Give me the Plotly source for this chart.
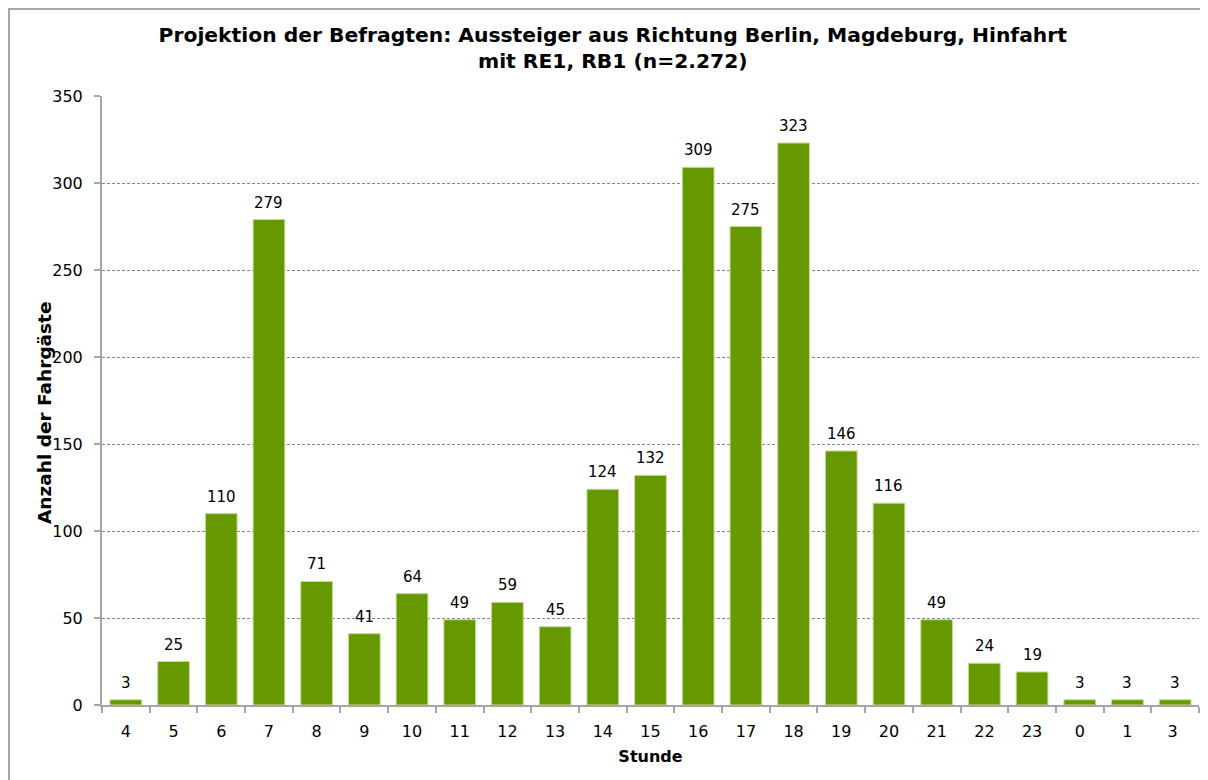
import plotly.graph_objects as go

stunden = ["4", "5", "6", "7", "8", "9", "10", "11", "12", "13", "14", "15", "16", "17", "18", "19", "20", "21", "22", "23", "0", "1", "3 "]
fahrgaeste = [3, 25, 110, 279, 71, 41, 64, 49, 59, 45, 124, 132, 309, 275, 323, 146, 116, 49, 24, 19, 3, 3, 3]
y_ticks = [0, 50, 100, 150, 200, 250, 300, 350]

FONT = "DejaVu Sans"

W, H = 1200, 772
L, R, T, B = 94, 9, 88, 75
PW, PH = W - L - R, H - T - B

fig = go.Figure(go.Bar(
    x=stunden,
    y=fahrgaeste,
    marker=dict(color="#669900", line=dict(color="#c4dc94", width=1)),
    hoverinfo="x+y",
))

# value labels: category axis position = index of the category
for idx, val in enumerate(fahrgaeste):
    fig.add_annotation(
        x=idx, y=val, xref="x", yref="y",
        text=str(val), showarrow=False,
        xanchor="center", yanchor="bottom", yshift=6,
        font=dict(family=FONT, size=15, color="#000000"),
    )

fig.update_layout(
    width=W, height=H,
    margin=dict(l=L, r=R, t=T, b=B),
    paper_bgcolor="white", plot_bgcolor="white",
    bargap=0.335,
    showlegend=False,
    title=dict(
        text="<b>Projektion der Befragten: Aussteiger aus Richtung Berlin, Magdeburg, Hinfahrt<br>mit RE1, RB1 (n=2.272)</b>",
        x=0.504, xref="container", xanchor="center",
        y=0.956, yref="container", yanchor="top",
        font=dict(family=FONT, size=20.3, color="#000000"),
    ),
    font=dict(family=FONT, size=16, color="#000000"),
)

fig.update_xaxes(
    type="category",
    categoryorder="array", categoryarray=stunden,
    range=[-0.5, len(stunden) - 0.5],
    title=dict(text="<b>Stunde</b>", font=dict(family=FONT, size=16), standoff=11),
    showline=True, linecolor="#a6a6a6", linewidth=2,
    ticks="outside", tickson="boundaries", ticklen=6, tickcolor="#a6a6a6", tickwidth=2,
    tickfont=dict(family=FONT, size=16),
    ticklabelstandoff=11,
    showgrid=False,
)
fig.update_yaxes(
    range=[0, 350],
    tickvals=y_ticks,
    showline=True, linecolor="#a6a6a6", linewidth=2,
    ticks="outside", ticklen=6, tickcolor="#a6a6a6", tickwidth=2,
    tickfont=dict(family=FONT, size=16),
    ticklabelstandoff=8,
    showgrid=True, gridcolor="#868686", gridwidth=1, griddash="3px,2px",
    zeroline=False,
)

# y-axis title (placed slightly below the plot centre, as in the reference)
fig.add_annotation(
    text="<b>Anzahl der Fahrgäste</b>", textangle=-90, showarrow=False,
    xref="paper", yref="paper",
    x=(45 - 8 - L) / PW, y=(T + PH - (413 - 8)) / PH,
    xanchor="center", yanchor="middle",
    font=dict(family=FONT, size=18.5, color="#000000"),
)

fig.add_shape(
    type="rect", xref="paper", yref="paper",
    x0=(1 - L) / PW, x1=(W + 10 - L) / PW,
    y0=(T + PH - H - 10) / PH, y1=(T + PH - 1) / PH,
    line=dict(color="#a6a6a6", width=2), fillcolor="rgba(0,0,0,0)",
    layer="below",
)

fig.write_html("out.html")
